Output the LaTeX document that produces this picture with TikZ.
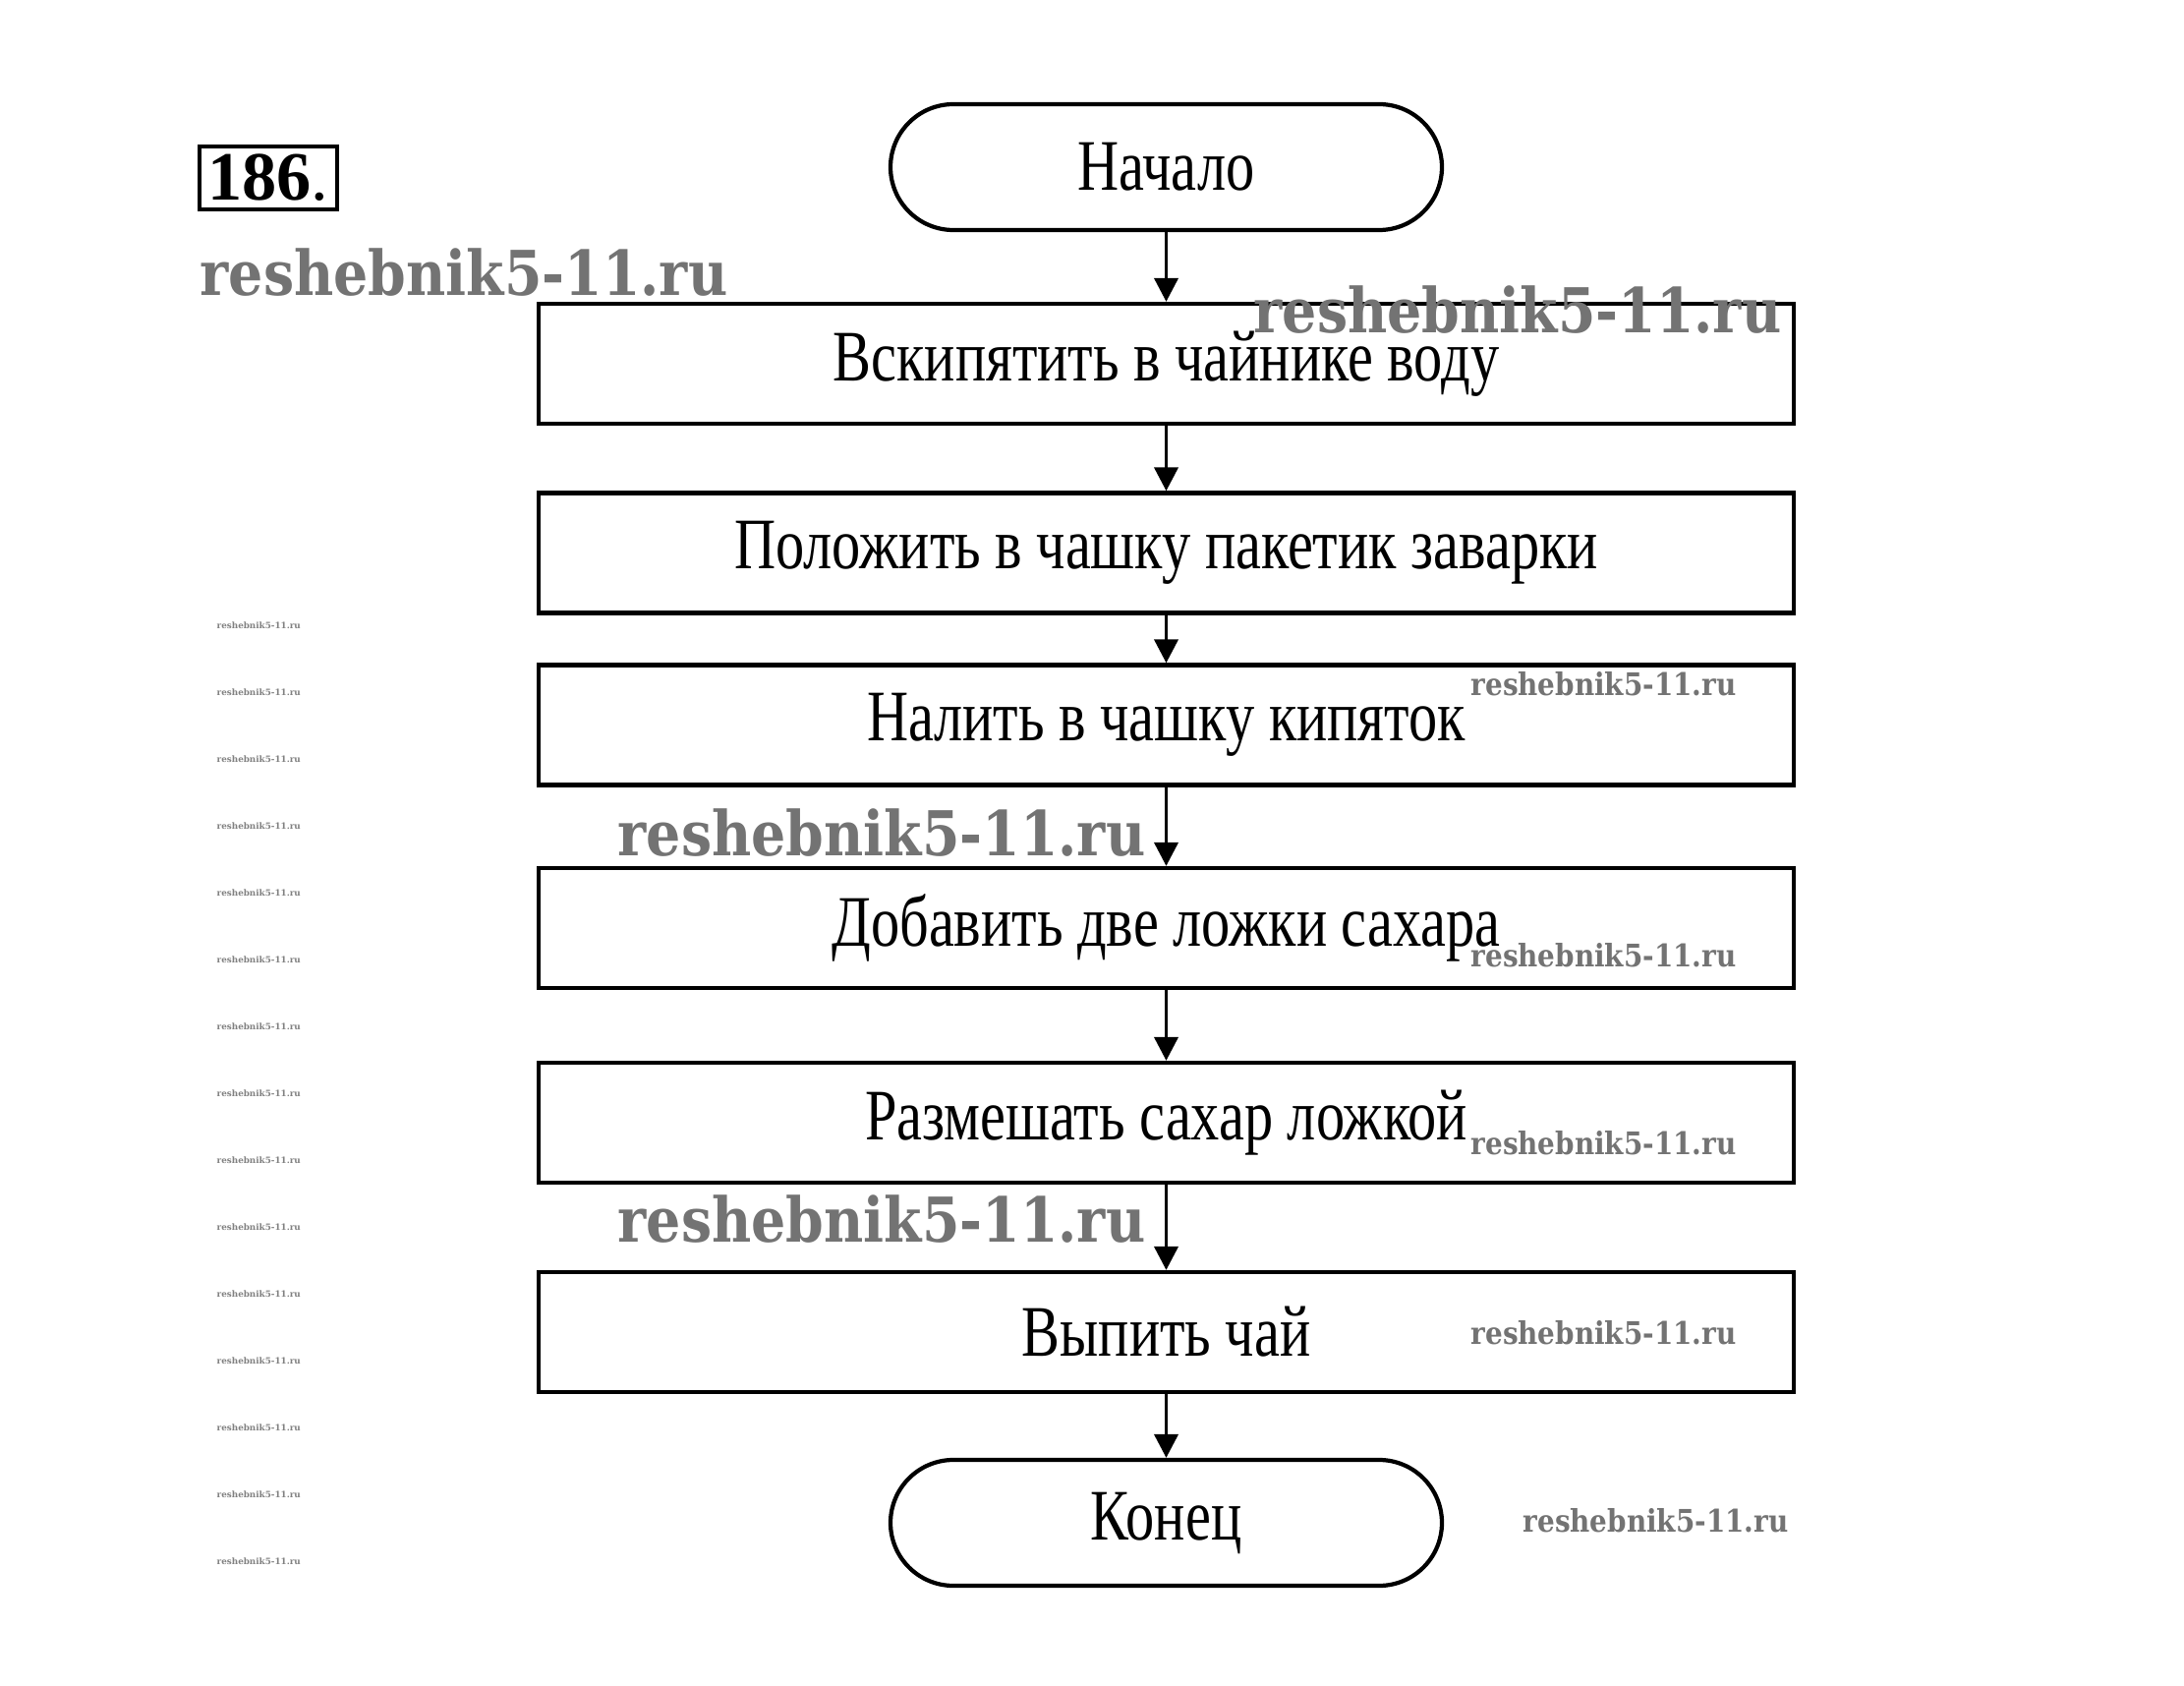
\documentclass[tikz,border=0pt]{standalone}
\usepackage{fontspec}
\setmainfont{Liberation Serif}[FakeStretch=0.79]
\newfontfamily\wmfont{DejaVu Serif}[FakeStretch=0.88]
\newfontfamily\wmtinyfont{DejaVu Serif}
\newfontfamily\numfont{Liberation Serif}
\usetikzlibrary{arrows.meta}
\tikzset{
  stepbox/.style={draw, line width=1.2pt, minimum width=12.77cm, minimum height=1.22cm, font=\fontsize{21}{24}\selectfont, inner sep=0pt},
  term/.style={draw, line width=1.2pt, rounded corners=0.64cm, minimum width=5.61cm, minimum height=1.28cm, font=\fontsize{21}{24}\selectfont, inner sep=0pt},
  flow/.style={line width=1.1pt, -{Triangle[length=0.24cm,width=0.24cm]}},
  wmbig/.style={text=black!55, font=\wmfont\bfseries\fontsize{17.9}{20}\selectfont, inner sep=0pt, anchor=west},
  wmsmall/.style={text=black!55, font=\wmfont\bfseries\fontsize{9}{10}\selectfont, inner sep=0pt, anchor=west},
  wmtiny/.style={text=black!50, font=\wmtinyfont\bfseries\fontsize{2.5}{3}\selectfont, inner sep=0pt, anchor=west}
}
\begin{document}
\begin{tikzpicture}
\useasboundingbox (0,0) rectangle (22.22,-17.15);
% exercise number
\node[draw, line width=1.3pt, minimum width=1.40cm, minimum height=0.64cm, inner sep=0pt, font=\numfont\fontsize{20}{22}\selectfont] (num) at (2.73,-1.81) {\textbf{186}.};
% flowchart
\node[term] (start) at (11.865,-1.70) {Начало};
\node[stepbox] (b1) at (11.865,-3.70) {Вскипятить в чайнике воду};
\node[stepbox] (b2) at (11.865,-5.625) {Положить в чашку пакетик заварки};
\node[stepbox] (b3) at (11.865,-7.375) {Налить в чашку кипяток};
\node[stepbox] (b4) at (11.865,-9.44) {Добавить две ложки сахара};
\node[stepbox] (b5) at (11.865,-11.42) {Размешать сахар ложкой};
\node[stepbox] (b6) at (11.865,-13.55) {Выпить чай};
\node[term] (end) at (11.865,-15.49) {Конец};
\draw[flow] (start) -- (b1);
\draw[flow] (b1) -- (b2);
\draw[flow] (b2) -- (b3);
\draw[flow] (b3) -- (b4);
\draw[flow] (b4) -- (b5);
\draw[flow] (b5) -- (b6);
\draw[flow] (b6) -- (end);
% watermarks
\node[wmbig] (wm1) at (2.03,-2.77) {reshebnik5-11.ru};
\node[wmbig] (wm2) at (12.75,-3.15) {reshebnik5-11.ru};
\node[wmbig] (wm3) at (6.28,-8.47) {reshebnik5-11.ru};
\node[wmbig] (wm4) at (6.28,-12.40) {reshebnik5-11.ru};
\node[wmsmall] (wm5) at (14.96,-6.96) {reshebnik5-11.ru};
\node[wmsmall] (wm6) at (14.96,-9.72) {reshebnik5-11.ru};
\node[wmsmall] (wm7) at (14.96,-11.63) {reshebnik5-11.ru};
\node[wmsmall] (wm8) at (14.96,-13.56) {reshebnik5-11.ru};
\node[wmsmall] (wm9) at (15.49,-15.47) {reshebnik5-11.ru};
\foreach \k in {0,...,14} {
  \node[wmtiny] (wt\k) at (2.20,{-6.36-0.68*\k}) {reshebnik5-11.ru};
}
\end{tikzpicture}
\end{document}
